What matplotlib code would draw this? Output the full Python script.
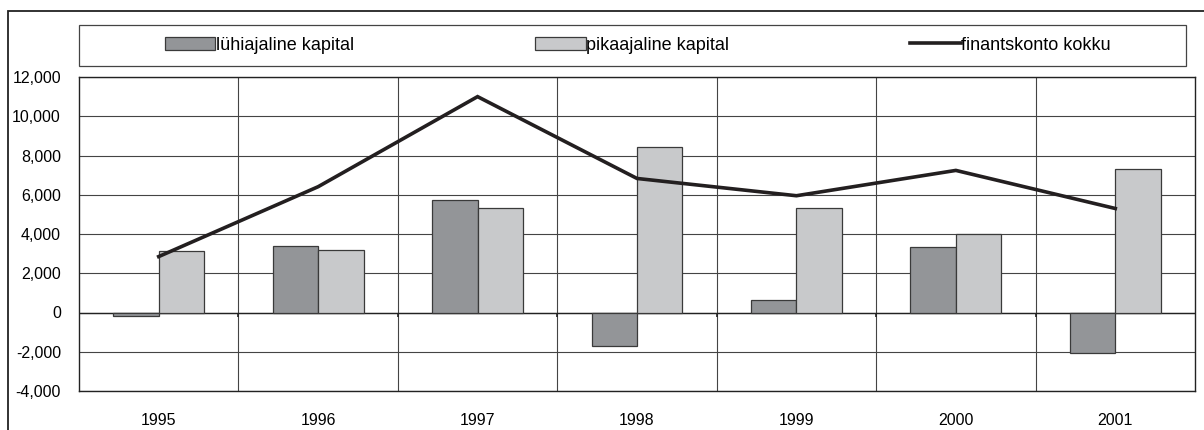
import matplotlib
matplotlib.use("Agg")
import matplotlib.pyplot as plt
from matplotlib.patches import Rectangle
from matplotlib.lines import Line2D
from matplotlib.ticker import FuncFormatter, FixedLocator
from matplotlib.transforms import blended_transform_factory
import numpy as np

years = ["1995", "1996", "1997", "1998", "1999", "2000", "2001"]
short_term = [-200, 3370, 5730, -1700, 630, 3360, -2050]
long_term = [3150, 3170, 5330, 8430, 5330, 3990, 7300]
total = [2850, 6410, 11000, 6830, 5950, 7240, 5300]
labels = ["lühiajaline kapital", "pikaajaline kapital", "finantskonto kokku"]

plt.rcParams['font.family'] = ['Liberation Sans', 'DejaVu Sans']

fig = plt.figure(figsize=(12.04, 4.30), dpi=100)
ax = fig.add_axes([79/1204, 1-391/430, (1195-79)/1204, (391-77)/430])

x = np.arange(len(years))
w = 0.285
dark = "#939598"
light = "#c8c9cb"
edge = "#3a3a3a"
ax.bar(x - w/2, short_term, width=w, color=dark, edgecolor=edge, linewidth=0.9, zorder=3)
ax.bar(x + w/2, long_term, width=w, color=light, edgecolor=edge, linewidth=0.9, zorder=3)
ax.plot(x, total, color="#231f20", linewidth=2.6, zorder=4, solid_joinstyle='miter')

ax.set_xlim(-0.5, len(years) - 0.5)
ax.set_ylim(-4000, 12000)
ax.set_yticks(np.arange(-4000, 12001, 2000))
ax.yaxis.set_major_formatter(FuncFormatter(lambda v, p: f"{v:,.0f}"))
ax.set_xticks(x)
ax.set_xticklabels(years)
bounds = np.arange(0.5, len(years) - 0.5, 1)
ax.xaxis.set_minor_locator(FixedLocator(bounds))
ax.tick_params(axis='x', which='both', length=0, pad=16, labelsize=11.5)
ax.tick_params(axis='y', length=0, pad=13, labelsize=11.5)
ax.grid(True, axis='y', which='major', color="#444444", linewidth=0.8, zorder=0)
ax.grid(True, axis='x', which='minor', color="#444444", linewidth=0.8, zorder=0)
ax.set_axisbelow(True)
for s in ax.spines.values():
    s.set_color("#222222")
    s.set_linewidth(1.0)

# zero line with small ticks below it
ax.axhline(0, color="#222222", linewidth=1.0, zorder=2)
trans = blended_transform_factory(ax.transData, ax.transAxes)
ax.vlines(bounds, 0.25 - 0.015, 0.25, transform=trans, color="#222222", linewidth=1.2, zorder=2)

# legend box
fig.patches.append(Rectangle((79/1204, 1-66/430), (1186-79)/1204, (66-25)/430,
                             transform=fig.transFigure, fill=False,
                             edgecolor="#444444", linewidth=0.9))
handles = [Rectangle((0, 0), 1, 1, facecolor=dark, edgecolor=edge, linewidth=0.9),
           Rectangle((0, 0), 1, 1, facecolor=light, edgecolor=edge, linewidth=0.9),
           Line2D([0], [0], color="#231f20", linewidth=2.6)]
fig.legend(handles, labels, ncol=3, loc='center', bbox_to_anchor=(638/1204, 1-45/430),
           frameon=False, fontsize=13, handlelength=2.8, handleheight=0.7,
           handletextpad=0.05, columnspacing=10.0, borderpad=0)

# outer frame
fig.patches.append(Rectangle((8/1204, -0.05), 1.2, 0.05 + (1-11/430),
                             transform=fig.transFigure, fill=False,
                             edgecolor="#222222", linewidth=1.3))

fig.savefig("out.png", dpi=100)
